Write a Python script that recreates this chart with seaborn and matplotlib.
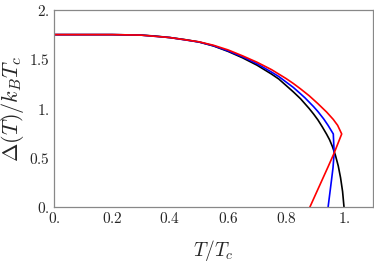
import matplotlib
matplotlib.use("Agg")
import matplotlib.pyplot as plt
import seaborn as sns
import pandas as pd

# Data
T_black = [0, 0.1, 0.2, 0.3, 0.35, 0.4, 0.45, 0.5, 0.55, 0.6, 0.65, 0.7, 0.75, 0.775, 0.8,
           0.825, 0.85, 0.865, 0.88, 0.895, 0.91, 0.925, 0.94, 0.95, 0.96, 0.97, 0.98,
           0.988, 0.995, 1.0]
D_black = [1.75, 1.75, 1.75, 1.745, 1.735, 1.72, 1.70, 1.675, 1.635, 1.58, 1.515, 1.44, 1.35, 1.30, 1.235,
           1.17, 1.10, 1.05, 1.00, 0.945, 0.885, 0.815, 0.74, 0.685, 0.615, 0.53, 0.42,
           0.30, 0.16, 0.0]

T_blue = [0, 0.1, 0.2, 0.3, 0.4, 0.5, 0.55, 0.6, 0.65, 0.7, 0.75, 0.775, 0.8, 0.825, 0.85,
          0.865, 0.88, 0.895, 0.91, 0.93, 0.945, 0.963, 0.966, 0.962, 0.957, 0.951, 0.945]
D_blue = [1.75, 1.75, 1.75, 1.745, 1.72, 1.675, 1.637, 1.585, 1.525, 1.455, 1.37, 1.325, 1.27, 1.215, 1.15,
          1.11, 1.065, 1.02, 0.97, 0.895, 0.83, 0.743, 0.55, 0.40, 0.28, 0.14, 0.0]

T_red = [0, 0.1, 0.2, 0.3, 0.4, 0.5, 0.55, 0.6, 0.65, 0.7, 0.75, 0.775, 0.8, 0.825, 0.85,
         0.88, 0.91, 0.94, 0.963, 0.978, 0.992, 0.966, 0.945, 0.925, 0.905, 0.882]
D_red = [1.75, 1.75, 1.75, 1.745, 1.72, 1.677, 1.642, 1.595, 1.535, 1.47, 1.395, 1.35, 1.305, 1.255, 1.20,
         1.13, 1.05, 0.965, 0.89, 0.83, 0.743, 0.55, 0.41, 0.28, 0.15, 0.0]

x_ticks = [0, 0.2, 0.4, 0.6, 0.8, 1.0]
x_labels = ["0.", "0.2", "0.4", "0.6", "0.8", "1."]
y_ticks = [0, 0.5, 1.0, 1.5, 2.0]
y_labels = ["0.", "0.5", "1.", "1.5", "2."]

sns.set_style("white")
plt.rcParams["mathtext.fontset"] = "cm"
plt.rcParams["font.family"] = ["DejaVu Serif"]

fig = plt.figure(figsize=(3.74, 2.62), dpi=100)
ax = fig.add_axes([0.1444, 0.209, 0.853, 0.753])

for T, D, c in [(T_black, D_black, "black"), (T_blue, D_blue, "blue"), (T_red, D_red, "red")]:
    df = pd.DataFrame({"T": T, "D": D})
    sns.lineplot(data=df, x="T", y="D", sort=False, estimator=None, color=c, lw=1.2, ax=ax)

ax.set_xlim(0, 1.1)
ax.set_ylim(0, 2)
ax.set_xticks(x_ticks)
ax.set_xticklabels(["$" + s + "$" for s in x_labels])
ax.set_yticks(y_ticks)
ax.set_yticklabels(["$" + s + "$" for s in y_labels])
ax.tick_params(direction="in", length=4, width=0.8, color="#888888", labelsize=11,
               top=False, right=False, pad=3)
for s in ax.spines.values():
    s.set_color("#888888")
    s.set_linewidth(0.9)

ax.set_xlabel(r"$T/T_c$", fontsize=14, labelpad=8)
ax.set_ylabel(r"$\Delta(T)/k_BT_c$", fontsize=16, labelpad=2)

fig.savefig("out.png", dpi=100)
